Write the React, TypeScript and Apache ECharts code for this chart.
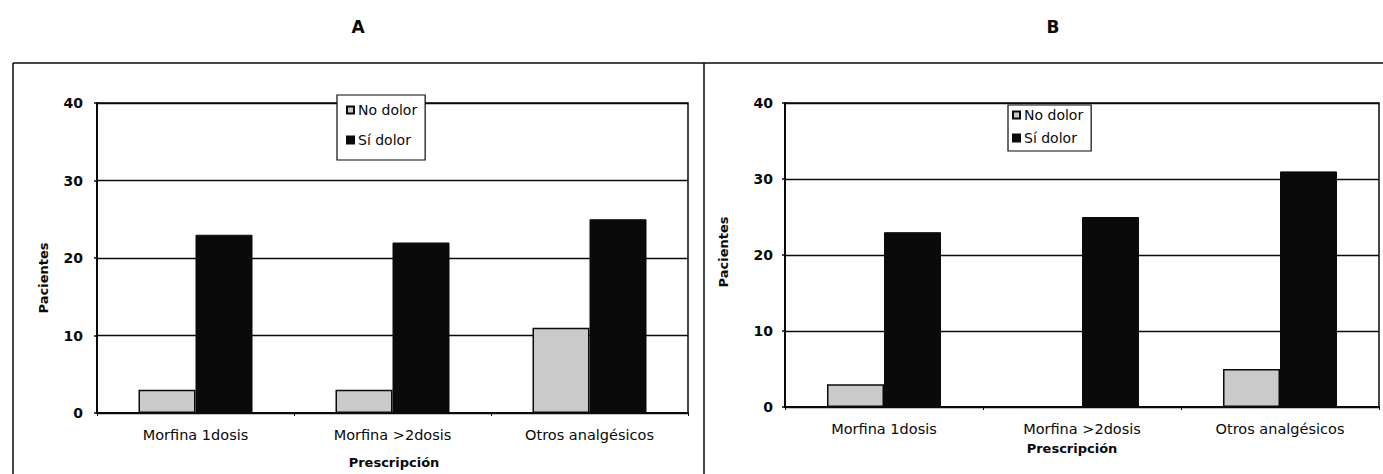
import React, { useEffect, useRef } from "react";
import * as echarts from "echarts";

const categories = ["Morfina 1dosis", "Morfina >2dosis", "Otros analgésicos"];
const seriesNames = ["No dolor", "Sí dolor"];
const noDolorA = [3, 3, 11];
const siDolorA = [23, 22, 25];
const noDolorB = [3, 0, 5];
const siDolorB = [23, 25, 31];
const panelTitles = ["A", "B"];
const yAxisTitle = "Pacientes";
const xAxisTitle = "Prescripción";

const FONT = "DejaVu Sans";
const GRAY = "#cacaca";
const INK = "#0a0a0a";

export default function App() {
  const ref = useRef<HTMLDivElement>(null);

  useEffect(() => {
    if (!ref.current) return;
    const chart = echarts.init(ref.current, null, { renderer: "svg" });

    const yAxisBase = (labelMargin: number) => ({
      type: "value",
      min: 0,
      max: 40,
      interval: 10,
      axisLine: { show: true, lineStyle: { color: INK, width: 2 } },
      axisTick: { show: true, length: 3, lineStyle: { color: INK, width: 1.5 } },
      axisLabel: {
        margin: labelMargin,
        color: INK,
        fontFamily: FONT,
        fontWeight: "bold",
        fontSize: 14,
      },
      splitLine: { show: true, lineStyle: { color: INK, width: 1.3 } },
    });

    const xAxisBase = (gridIndex: number, labelMargin: number) => ({
      type: "category",
      gridIndex,
      data: categories,
      axisLine: { show: true, lineStyle: { color: INK, width: 2 } },
      axisTick: { show: true, length: 3, inside: false, lineStyle: { color: INK, width: 1 } },
      axisLabel: {
        margin: labelMargin,
        color: INK,
        fontFamily: FONT,
        fontSize: 14.5,
        interval: 0,
      },
    });

    const barStyleGray = { color: GRAY, borderColor: INK, borderWidth: 1.5 };
    const barStyleBlack = { color: INK, borderColor: INK, borderWidth: 1 };

    const legendBase = {
      orient: "vertical",
      icon: "rect",
      itemWidth: 7,
      itemHeight: 7,
      itemGap: 0,
      backgroundColor: "#fff",
      borderColor: INK,
      borderWidth: 1.2,
      borderRadius: 0,
      data: seriesNames,
      selectedMode: false,
      textStyle: { color: INK, fontFamily: FONT, fontSize: 14, padding: [0, 0, 0, -1] },
    };

    const option = {
      animation: false,
      backgroundColor: "#fff",
      grid: [
        { left: 97, top: 103, width: 591, height: 310, show: true, borderColor: INK, borderWidth: 1.5, backgroundColor: "transparent" },
        { left: 785, top: 103, width: 594, height: 304, show: true, borderColor: INK, borderWidth: 1.5, backgroundColor: "transparent" },
      ],
      xAxis: [xAxisBase(0, 14), xAxisBase(1, 14)],
      yAxis: [
        { ...yAxisBase(14), gridIndex: 0 },
        { ...yAxisBase(12), gridIndex: 1 },
      ],
      legend: [
        { ...legendBase, left: 337, top: 95, padding: [8, 8, 13, 9], itemGap: 16 },
        { ...legendBase, left: 1008, top: 105, padding: [3, 8, 6, 4], itemGap: 9 },
      ],
      series: [
        { name: seriesNames[0], type: "bar", xAxisIndex: 0, yAxisIndex: 0, data: noDolorA, barWidth: 57, barGap: "0%", itemStyle: barStyleGray },
        { name: seriesNames[1], type: "bar", xAxisIndex: 0, yAxisIndex: 0, data: siDolorA, barWidth: 57, barGap: "0%", itemStyle: barStyleBlack },
        { name: seriesNames[0], type: "bar", xAxisIndex: 1, yAxisIndex: 1, data: noDolorB, barWidth: 57, barGap: "0%", itemStyle: barStyleGray },
        { name: seriesNames[1], type: "bar", xAxisIndex: 1, yAxisIndex: 1, data: siDolorB, barWidth: 57, barGap: "0%", itemStyle: barStyleBlack },
      ],
      graphic: [
        { type: "line", shape: { x1: 13, y1: 63, x2: 1383, y2: 63 }, style: { stroke: INK, lineWidth: 1.5 }, z: 10 },
        { type: "line", shape: { x1: 13, y1: 63, x2: 13, y2: 474 }, style: { stroke: INK, lineWidth: 1.5 }, z: 10 },
        { type: "line", shape: { x1: 704, y1: 63, x2: 704, y2: 474 }, style: { stroke: INK, lineWidth: 1.5 }, z: 10 },
        { type: "text", x: 358, y: 27, style: { text: panelTitles[0], fill: INK, font: `bold 17px "${FONT}"`, textAlign: "center", textVerticalAlign: "middle" } },
        { type: "text", x: 1053, y: 27, style: { text: panelTitles[1], fill: INK, font: `bold 17px "${FONT}"`, textAlign: "center", textVerticalAlign: "middle" } },
        { type: "text", x: 43, y: 278, rotation: Math.PI / 2, style: { text: yAxisTitle, fill: INK, font: `bold 13px "${FONT}"`, textAlign: "center", textVerticalAlign: "middle" } },
        { type: "text", x: 723, y: 252, rotation: Math.PI / 2, style: { text: yAxisTitle, fill: INK, font: `bold 13px "${FONT}"`, textAlign: "center", textVerticalAlign: "middle" } },
        { type: "text", x: 394, y: 462, style: { text: xAxisTitle, fill: INK, font: `bold 13px "${FONT}"`, textAlign: "center", textVerticalAlign: "middle" } },
        { type: "text", x: 1072, y: 448, style: { text: xAxisTitle, fill: INK, font: `bold 13px "${FONT}"`, textAlign: "center", textVerticalAlign: "middle" } },
      ],
    };

    chart.setOption(option as any);
    return () => chart.dispose();
  }, []);

  return (
    <div
      ref={ref}
      style={{ position: "fixed", left: 0, top: 0, width: 1383, height: 474, background: "#fff" }}
    />
  );
}
